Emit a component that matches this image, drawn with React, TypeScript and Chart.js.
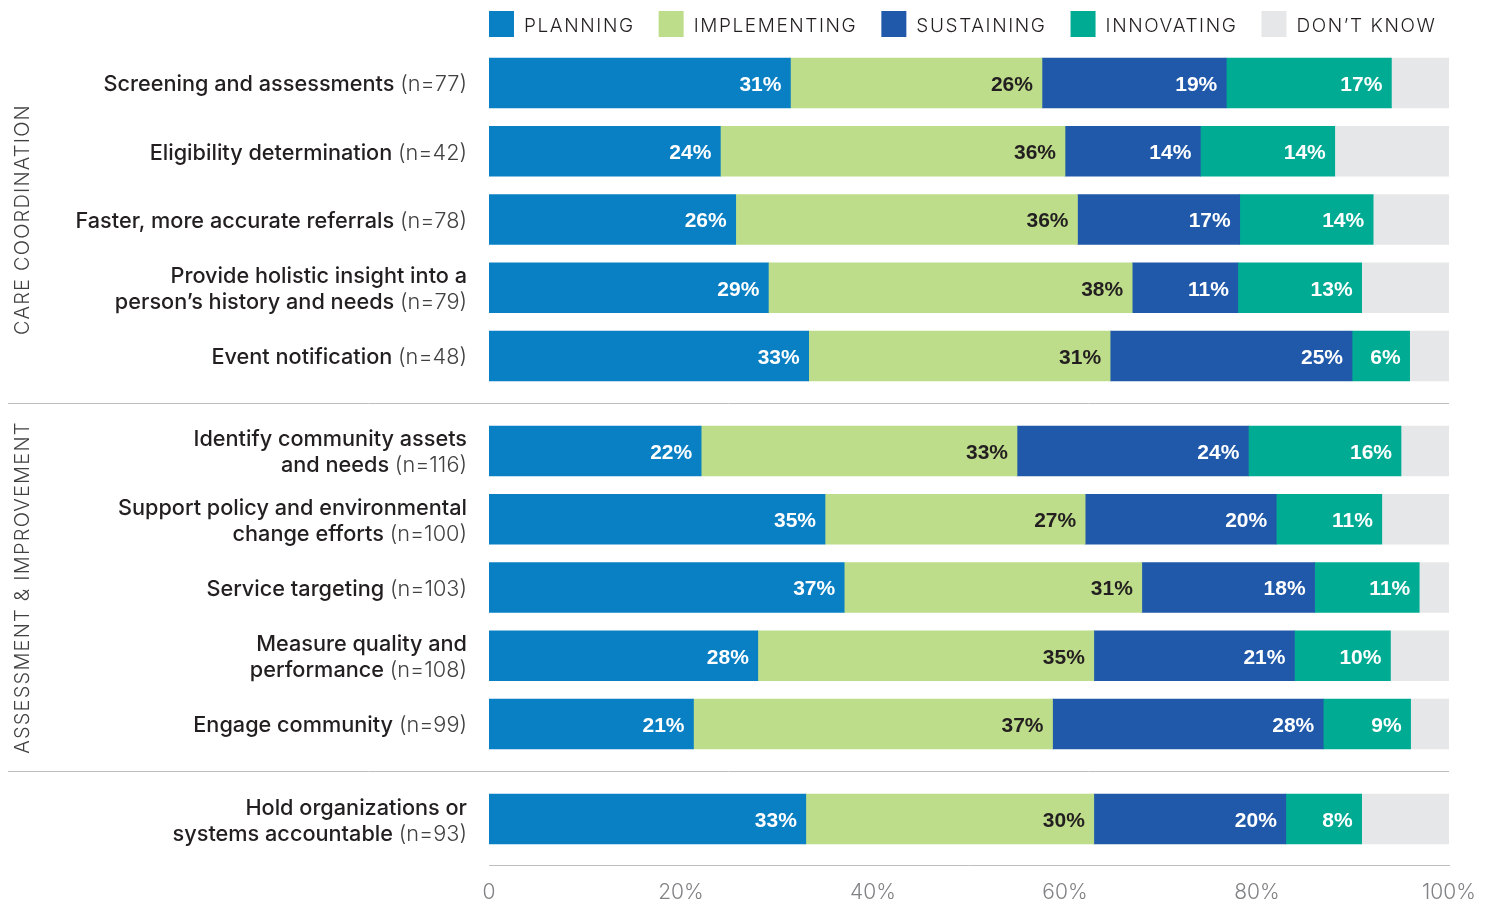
import React, { useEffect, useRef } from "react";
import { Chart, registerables } from "chart.js";

Chart.register(...registerables);

// ---------- DATA ----------
const categories: string[][] = [
  ["Screening and assessments"],
  ["Eligibility determination"],
  ["Faster, more accurate referrals"],
  ["Provide holistic insight into a", "person\u2019s history and needs"],
  ["Event notification"],
  ["Identify community assets", "and needs"],
  ["Support policy and environmental", "change efforts"],
  ["Service targeting"],
  ["Measure quality and", "performance"],
  ["Engage community"],
  ["Hold organizations or", "systems accountable"],
];
const nCounts = [77, 42, 78, 79, 48, 116, 100, 103, 108, 99, 93];
const groupIndex = [0, 0, 0, 0, 0, 1, 1, 1, 1, 1, 2];
const groupNames = ["CARE COORDINATION", "ASSESSMENT & IMPROVEMENT", ""];

const seriesNames = ["PLANNING", "IMPLEMENTING", "SUSTAINING", "INNOVATING", "DON\u2019T KNOW"];
const planning = [31.4, 24.1, 25.7, 29.1, 33.3, 22.1, 35.0, 37.0, 28.0, 21.3, 33.0];
const implementing = [26.2, 35.9, 35.6, 37.9, 31.4, 32.9, 27.1, 31.0, 35.0, 37.4, 30.0];
const sustaining = [19.2, 14.1, 16.9, 11.0, 25.2, 24.1, 19.9, 18.0, 20.9, 28.2, 20.0];
const innovating = [17.2, 14.0, 13.9, 12.9, 6.0, 15.9, 11.0, 10.9, 10.0, 9.1, 7.9];
const dontKnow = [6.0, 11.9, 7.9, 9.1, 4.1, 5.0, 7.0, 3.1, 6.1, 4.0, 9.1];
const seriesValues = [planning, implementing, sustaining, innovating, dontKnow];

const xTicks = [0, 20, 40, 60, 80, 100];

// ---------- STYLE ----------
const seriesColors = ["#0a80c4", "#bddd8a", "#2059a9", "#00ab94", "#e6e7e8"];
const labelColors = ["#ffffff", "#231f20", "#ffffff", "#ffffff", null];
const TEXT_FONT = "Inter, 'Liberation Sans', Arial, sans-serif";
const BOLD_FONT = "'Liberation Sans', Arial, sans-serif";
const GROUP_GAP = 0.392;

const rowPos = categories.map((_, i) => i + groupIndex[i] * GROUP_GAP);

const decorPlugin = {
  id: "decor",
  afterDraw(chart: any) {
    const ctx = chart.ctx as CanvasRenderingContext2D;
    const ys = chart.scales.y;
    const area = chart.chartArea;
    ctx.save();

    // legend
    let lx = area.left;
    ctx.font = `300 19px ${TEXT_FONT}`;
    (ctx as any).letterSpacing = "1.6px";
    ctx.textAlign = "left";
    ctx.textBaseline = "alphabetic";
    chart.data.datasets.forEach((ds: any) => {
      ctx.fillStyle = ds.backgroundColor;
      ctx.fillRect(lx, 11, 25, 26);
      lx += 35;
      ctx.fillStyle = "#231f20";
      ctx.fillText(ds.label, lx, 31.5);
      lx += ctx.measureText(ds.label).width + 24;
    });

    // separators
    ctx.strokeStyle = "#bcbec0";
    ctx.lineWidth = 1;
    for (let i = 1; i < rowPos.length; i++) {
      if (groupIndex[i] !== groupIndex[i - 1]) {
        const yy = Math.round(ys.getPixelForValue((rowPos[i] + rowPos[i - 1]) / 2)) + 0.5;
        ctx.beginPath();
        ctx.moveTo(8, yy);
        ctx.lineTo(area.right, yy);
        ctx.stroke();
      }
    }

    // group labels
    ctx.font = `300 20px ${TEXT_FONT}`;
    (ctx as any).letterSpacing = "1.2px";
    ctx.fillStyle = "#414042";
    groupNames.forEach((g, gi) => {
      if (!g) return;
      const idx = rowPos.filter((_, i) => groupIndex[i] === gi);
      const cy = ys.getPixelForValue((idx[0] + idx[idx.length - 1]) / 2);
      ctx.save();
      ctx.translate(28.5, cy);
      ctx.rotate(-Math.PI / 2);
      ctx.textAlign = "center";
      ctx.fillText(g, 0, 0);
      ctx.restore();
    });

    // category labels
    (ctx as any).letterSpacing = "0px";
    ctx.textAlign = "right";
    const right = 467;
    categories.forEach((lines, i) => {
      const cy = ys.getPixelForValue(rowPos[i]);
      const bases = lines.length === 1 ? [cy + 8.5] : [cy - 4.5, cy + 21.5];
      lines.forEach((line, j) => {
        if (j === lines.length - 1) {
          const nTxt = `(n=${nCounts[i]})`;
          ctx.font = `300 21.7px ${TEXT_FONT}`;
          ctx.fillStyle = "#414042";
          ctx.fillText(nTxt, right, bases[j]);
          const w = ctx.measureText(nTxt).width;
          ctx.font = `500 21.7px ${TEXT_FONT}`;
          const sp = ctx.measureText(" ").width;
          ctx.fillStyle = "#231f20";
          ctx.fillText(line, right - w - sp, bases[j]);
        } else {
          ctx.font = `500 21.7px ${TEXT_FONT}`;
          ctx.fillStyle = "#231f20";
          ctx.fillText(line, right, bases[j]);
        }
      });
    });

    ctx.restore();
  },
  afterDatasetsDraw(chart: any) {
    const ctx = chart.ctx as CanvasRenderingContext2D;
    ctx.save();
    ctx.font = `bold 21px ${BOLD_FONT}`;
    ctx.textAlign = "right";
    ctx.textBaseline = "alphabetic";
    chart.data.datasets.forEach((ds: any, d: number) => {
      const col = labelColors[d];
      if (!col) return;
      const meta = chart.getDatasetMeta(d);
      meta.data.forEach((bar: any, i: number) => {
        const p = bar.getProps(["x", "y"], true);
        ctx.fillStyle = col;
        ctx.fillText(`${Math.round(seriesValues[d][i])}%`, p.x - 9, p.y + 8);
      });
    });
    ctx.restore();
  },
};

export default function App() {
  const ref = useRef<HTMLCanvasElement | null>(null);
  useEffect(() => {
    if (!ref.current) return;
    const lastPos = rowPos[rowPos.length - 1];
    const chart = new Chart(ref.current, {
      type: "bar",
      data: {
        datasets: seriesNames.map((name, d) => ({
          label: name,
          data: seriesValues[d].map((v, i) => ({ x: v, y: rowPos[i] })),
          backgroundColor: seriesColors[d],
          borderWidth: 0,
          barThickness: 50,
        })),
      },
      options: {
        indexAxis: "y",
        responsive: false,
        animation: false,
        events: [],
        layout: { padding: { left: 489, right: 45, top: 48.875, bottom: 0 } },
        plugins: { legend: { display: false }, tooltip: { enabled: false } },
        scales: {
          x: {
            type: "linear",
            stacked: true,
            min: 0,
            max: 100,
            afterBuildTicks: (s: any) => {
              s.ticks = xTicks.map((v) => ({ value: v }));
            },
            afterFit: (s: any) => {
              s.height = 36;
            },
            grid: { display: false, drawTicks: false },
            border: { display: true, color: "#bcbec0", width: 1 },
            ticks: {
              padding: 15,
              color: "#808285",
              font: { family: TEXT_FONT, size: 21, weight: 300 as any },
              callback: (v: any) => (v === 0 ? "0" : `${v}%`),
            },
          },
          y: {
            type: "linear",
            stacked: true,
            reverse: true,
            display: false,
            offset: false,
            grid: { offset: false },
            min: -0.5,
            max: lastPos + 0.674,
          },
        },
      },
      plugins: [decorPlugin],
    } as any);
    return () => chart.destroy();
  }, []);
  return (
    <div style={{ position: "absolute", left: 0, top: 0, width: 1494, height: 901, background: "#fff" }}>
      <canvas ref={ref} width={1494} height={901} style={{ display: "block" }} />
    </div>
  );
}
